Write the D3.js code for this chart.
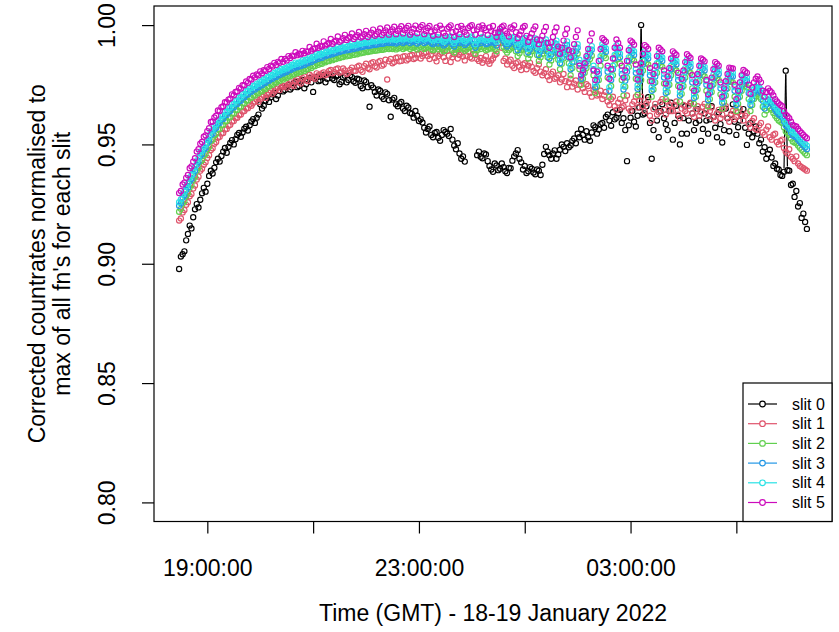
<!DOCTYPE html>
<html>
<head>
<meta charset="utf-8">
<script src="https://cdn.jsdelivr.net/npm/d3@7"></script>
<style>
  body { margin: 0; background: #fff; }
  svg { display: block; font-family: "Liberation Sans", Arial, Helvetica, sans-serif; }
</style>
</head>
<body>
<div id="chart"></div>
<script>
// sampling grid: one reading every 2 minutes from 18:28 GMT
const startTime = new Date(2022, 0, 18, 18, 28);
const stepMinutes = 2;

const slit0 = [
  .8978,.9030,.9040,.9052,.9098,.9125,.9160,.9148,.9195,.9228,.9250,.9236,.9268,.9295,.9318,.9302,.9335,.9368,.9390,.9378,
  .9402,.9425,.9440,.9428,.9452,.9470,.9485,.9465,.9490,.9506,.9518,.9500,.9522,.9540,.9548,.9532,.9550,.9566,.9574,.9558,
  .9580,.9596,.9606,.9590,.9612,.9625,.9668,.9650,.9662,.9684,.9695,.9678,.9698,.9710,.9716,.9690,.9705,.9725,.9738,.9722,
  .9728,.9742,.9750,.9730,.9738,.9756,.9762,.9740,.9745,.9766,.9770,.9735,.9752,.9772,.9778,.9760,.9720,.9776,.9782,.9765,
  .9768,.9784,.9790,.9760,.9775,.9795,.9792,.9776,.9770,.9785,.9790,.9752,.9762,.9780,.9788,.9760,.9770,.9790,.9782,.9765,
  .9758,.9775,.9772,.9745,.9735,.9768,.9762,.9740,.9658,.9748,.9738,.9720,.9705,.9730,.9725,.9700,.9690,.9718,.9712,.9685,
  .9616,.9688,.9695,.9668,.9660,.9672,.9678,.9650,.9640,.9662,.9655,.9632,.9628,.9612,.9640,.9620,.9598,.9605,.9592,.9570,
  .9550,.9565,.9575,.9540,.9530,.9548,.9552,.9528,.9515,.9540,.9560,.9552,.9545,.9535,.9565,.9520,.9495,.9480,.9505,.9462,
  .9440,.9450,.9428,null,null,null,null,null,null,.9455,.9470,.9448,.9442,.9462,.9458,.9430,.9410,.9395,.9385,.9420,
  .9412,.9392,.9398,.9420,.9405,.9388,.9380,.9402,.9400,.9432,.9450,.9462,.9476,.9440,.9425,.9395,.9410,.9380,.9388,.9405,
  .9398,.9382,.9375,.9395,.9390,.9372,.9415,.9460,.9490,.9470,.9455,.9440,.9462,.9475,.9440,.9458,.9478,.9500,.9490,.9472,
  .9505,.9488,.9496,.9515,.9525,.9505,.9545,.9530,.9565,.9540,.9520,.9555,.9530,.9515,.9550,.9580,.9572,.9545,.9562,.9585,
  .9590,.9570,.9615,.9625,.9600,.9578,.9635,.9605,.9612,.9630,.9645,.9590,.9610,.9560,.9430,.9580,.9612,.9640,.9595,.9575,
  .9620,.9655,1.0000,.9625,.9630,.9660,.9698,.9590,.9440,.9560,.9655,.9600,.9530,.9640,.9668,.9610,.9585,.9560,.9640,.9675,
  .9520,.9590,.9662,.9620,.9500,.9545,.9610,.9660,.9545,.9600,.9672,.9630,.9560,.9590,.9648,.9600,.9515,.9565,.9630,.9600,
  .9545,.9605,.9660,.9615,.9570,.9530,.9635,.9585,.9508,.9560,.9650,.9610,.9555,.9625,.9668,.9595,.9540,.9572,.9600,.9625,
  .9648,.9570,.9498,.9545,.9590,.9530,.9555,.9575,.9545,.9505,.9520,.9470,.9488,.9440,.9460,.9478,.9445,.9410,.9420,.9398,
  .9395,.9372,.9368,.9385,.9809,.9392,.9390,.9330,.9335,.9280,.9305,.9240,.9254,.9192,.9210,.9175,.9146
];

const slit1 = [
  .9181,.9190,.9215,.9225,.9247,.9258,.9283,.9292,.9315,.9328,.9353,.9365,.9390,.9398,.9415,.9425,.9443,.9455,.9477,.9484,
  .9503,.9510,.9528,.9532,.9546,.9548,.9563,.9565,.9578,.9582,.9596,.9598,.9610,.9612,.9623,.9625,.9638,.9640,.9650,.9652,
  .9666,.9662,.9672,.9680,.9688,.9678,.9690,.9700,.9706,.9695,.9708,.9716,.9725,.9712,.9722,.9732,.9740,.9728,.9738,.9745,
  .9745,.9738,.9752,.9760,.9750,.9745,.9768,.9775,.9762,.9755,.9778,.9785,.9770,.9765,.9792,.9785,.9780,.9775,.9798,.9790,
  .9790,.9798,.9802,.9790,.9795,.9808,.9812,.9798,.9803,.9815,.9818,.9800,.9805,.9818,.9810,.9795,.9800,.9812,.9822,.9808,
  .9808,.9825,.9830,.9812,.9804,.9828,.9838,.9820,.9815,.9840,.9845,.9828,.9822,.9845,.9850,.9830,.9835,.9855,.9772,.9848,
  .9858,.9840,.9845,.9862,.9865,.9848,.9850,.9868,.9870,.9852,.9858,.9872,.9875,.9858,.9862,.9878,.9880,.9860,.9870,.9882,
  .9885,.9870,.9858,.9875,.9890,.9862,.9848,.9870,.9880,.9885,.9865,.9850,.9892,.9872,.9845,.9865,.9878,.9885,.9860,.9875,
  .9885,.9868,.9852,.9872,.9888,.9865,.9860,.9880,.9875,.9858,.9850,.9862,.9842,.9855,.9870,.9848,.9838,.9852,.9860,.9875,
  .9880,.9925,.9950,.9905,.9850,.9860,.9835,.9848,.9855,.9830,.9820,.9840,.9845,.9825,.9812,.9835,.9840,.9815,.9830,.9842,
  .9825,.9808,.9800,.9820,.9835,.9805,.9790,.9800,.9815,.9785,.9770,.9795,.9805,.9775,.9780,.9790,.9760,.9772,.9795,.9765,
  .9740,.9760,.9775,.9742,.9755,.9768,.9730,.9750,.9765,.9735,.9720,.9752,.9745,.9715,.9700,.9728,.9735,.9705,.9710,.9725,
  .9690,.9705,.9720,.9680,.9665,.9690,.9700,.9660,.9645,.9675,.9690,.9655,.9660,.9685,.9705,.9650,.9640,.9668,.9680,.9700,
  .9655,.9685,.9700,.9660,.9640,.9672,.9685,.9620,.9600,.9648,.9670,.9625,.9635,.9678,.9690,.9645,.9625,.9680,.9665,.9640,
  .9640,.9665,.9680,.9625,.9610,.9650,.9665,.9640,.9630,.9662,.9675,.9630,.9615,.9648,.9660,.9620,.9635,.9658,.9670,.9645,
  .9620,.9640,.9655,.9615,.9600,.9630,.9645,.9610,.9625,.9650,.9660,.9612,.9595,.9628,.9640,.9605,.9615,.9635,.9650,.9620,
  .9600,.9620,.9630,.9585,.9570,.9598,.9610,.9565,.9560,.9580,.9590,.9550,.9540,.9562,.9575,.9530,.9520,.9540,.9545,.9510,
  .9500,.9515,.9520,.9485,.9470,.9462,.9480,.9448,.9440,.9430,.9450,.9420,.9410,.9405,.9400,.9395,.9390
];

const slit2 = [
  .9218,.9230,.9252,.9262,.9284,.9295,.9320,.9330,.9352,.9365,.9390,.9402,.9427,.9434,.9452,.9460,.9480,.9490,.9514,.9520,
  .9537,.9544,.9562,.9565,.9580,.9582,.9597,.9598,.9612,.9615,.9630,.9630,.9644,.9644,.9657,.9658,.9672,.9672,.9684,.9684,
  .9696,.9696,.9706,.9705,.9715,.9714,.9724,.9723,.9733,.9732,.9742,.9742,.9752,.9750,.9760,.9758,.9768,.9766,.9776,.9772,
  .9780,.9778,.9787,.9786,.9794,.9793,.9803,.9798,.9804,.9803,.9813,.9808,.9815,.9815,.9825,.9820,.9828,.9828,.9839,.9834,
  .9840,.9838,.9849,.9844,.9850,.9849,.9859,.9853,.9858,.9858,.9869,.9862,.9866,.9866,.9876,.9869,.9872,.9872,.9882,.9875,
  .9880,.9878,.9889,.9882,.9885,.9885,.9894,.9887,.9890,.9890,.9899,.9892,.9894,.9895,.9903,.9896,.9898,.9900,.9907,.9900,
  .9904,.9900,.9908,.9898,.9902,.9904,.9910,.9900,.9905,.9906,.9912,.9900,.9906,.9905,.9912,.9898,.9905,.9908,.9913,.9900,
  .9905,.9908,.9912,.9900,.9895,.9902,.9910,.9898,.9908,.9900,.9890,.9895,.9906,.9908,.9912,.9895,.9885,.9898,.9908,.9900,
  .9910,.9902,.9892,.9898,.9905,.9908,.9912,.9895,.9880,.9895,.9906,.9900,.9910,.9905,.9895,.9898,.9904,.9902,.9908,.9900,
  .9890,.9940,.9960,.9935,.9908,.9896,.9885,.9895,.9902,.9906,.9910,.9890,.9870,.9882,.9895,.9902,.9906,.9880,.9860,.9875,
  .9890,.9898,.9904,.9875,.9850,.9865,.9880,.9892,.9900,.9865,.9835,.9852,.9870,.9885,.9895,.9855,.9815,.9838,.9860,.9878,
  .9892,.9840,.9790,.9820,.9845,.9865,.9880,.9815,.9750,.9775,.9800,.9820,.9840,.9858,.9872,.9790,.9715,.9742,.9770,.9830,
  .9880,.9872,.9862,.9780,.9700,.9745,.9790,.9835,.9875,.9858,.9840,.9770,.9705,.9742,.9780,.9825,.9865,.9858,.9850,.9775,
  .9708,.9740,.9770,.9810,.9850,.9842,.9835,.9765,.9700,.9730,.9760,.9800,.9840,.9832,.9825,.9755,.9690,.9720,.9750,.9790,
  .9825,.9818,.9810,.9745,.9680,.9712,.9745,.9780,.9815,.9808,.9800,.9735,.9670,.9700,.9730,.9765,.9800,.9792,.9785,.9725,
  .9660,.9690,.9720,.9752,.9785,.9778,.9770,.9710,.9650,.9678,.9705,.9735,.9765,.9762,.9760,.9700,.9640,.9670,.9700,.9725,
  .9750,.9745,.9740,.9690,.9640,.9665,.9690,.9702,.9712,.9700,.9690,.9658,.9625,.9642,.9660,.9652,.9645,.9632,.9620,.9610,
  .9600,.9595,.9590,.9572,.9555,.9548,.9540,.9525,.9512,.9508,.9505,.9495,.9486,.9478,.9470,.9462,.9455
];

const slit3 = [
  .9243,.9255,.9277,.9287,.9309,.9320,.9345,.9355,.9377,.9390,.9415,.9427,.9452,.9459,.9477,.9485,.9505,.9515,.9539,.9545,
  .9562,.9569,.9587,.9590,.9605,.9607,.9622,.9623,.9637,.9640,.9655,.9655,.9669,.9669,.9682,.9683,.9697,.9697,.9709,.9709,
  .9721,.9721,.9731,.9730,.9740,.9739,.9749,.9748,.9758,.9757,.9767,.9767,.9777,.9775,.9785,.9783,.9793,.9791,.9801,.9797,
  .9805,.9803,.9812,.9811,.9819,.9818,.9828,.9823,.9829,.9828,.9838,.9833,.9840,.9840,.9850,.9845,.9853,.9853,.9864,.9859,
  .9865,.9863,.9874,.9869,.9875,.9874,.9884,.9878,.9883,.9883,.9894,.9887,.9891,.9891,.9901,.9894,.9897,.9897,.9907,.9900,
  .9905,.9903,.9914,.9907,.9910,.9910,.9919,.9912,.9915,.9915,.9924,.9917,.9919,.9920,.9928,.9921,.9923,.9925,.9932,.9925,
  .9929,.9925,.9933,.9923,.9927,.9929,.9935,.9925,.9930,.9931,.9937,.9925,.9931,.9930,.9937,.9923,.9930,.9933,.9938,.9925,
  .9930,.9933,.9937,.9925,.9920,.9927,.9935,.9923,.9933,.9925,.9915,.9920,.9931,.9933,.9937,.9920,.9910,.9923,.9933,.9925,
  .9935,.9927,.9917,.9923,.9930,.9933,.9937,.9920,.9905,.9920,.9931,.9925,.9935,.9930,.9920,.9923,.9929,.9927,.9933,.9925,
  .9915,.9950,.9968,.9945,.9933,.9921,.9910,.9920,.9927,.9931,.9935,.9915,.9895,.9907,.9920,.9927,.9931,.9905,.9885,.9900,
  .9915,.9923,.9929,.9900,.9875,.9890,.9905,.9917,.9925,.9890,.9860,.9877,.9895,.9910,.9920,.9880,.9840,.9863,.9885,.9903,
  .9917,.9865,.9815,.9845,.9870,.9890,.9905,.9840,.9775,.9800,.9825,.9845,.9865,.9883,.9897,.9815,.9740,.9767,.9795,.9855,
  .9905,.9897,.9887,.9805,.9725,.9770,.9815,.9860,.9900,.9883,.9865,.9795,.9730,.9767,.9805,.9850,.9890,.9883,.9875,.9800,
  .9733,.9765,.9795,.9835,.9875,.9867,.9860,.9790,.9725,.9755,.9785,.9825,.9865,.9857,.9850,.9780,.9715,.9745,.9775,.9815,
  .9850,.9843,.9835,.9770,.9705,.9737,.9770,.9805,.9840,.9833,.9825,.9760,.9695,.9725,.9755,.9790,.9825,.9817,.9810,.9750,
  .9685,.9715,.9745,.9777,.9810,.9803,.9795,.9735,.9675,.9703,.9730,.9760,.9790,.9787,.9785,.9725,.9665,.9695,.9725,.9750,
  .9775,.9770,.9765,.9715,.9665,.9690,.9715,.9727,.9737,.9725,.9715,.9683,.9650,.9667,.9685,.9677,.9670,.9657,.9645,.9635,
  .9625,.9620,.9615,.9597,.9580,.9573,.9565,.9550,.9537,.9533,.9530,.9520,.9511,.9503,.9495,.9487,.9480
];

const slit4 = [
  .9258,.9270,.9292,.9302,.9324,.9335,.9360,.9370,.9392,.9405,.9430,.9442,.9467,.9474,.9492,.9500,.9520,.9530,.9554,.9560,
  .9577,.9584,.9602,.9605,.9620,.9622,.9637,.9638,.9652,.9655,.9670,.9670,.9684,.9684,.9697,.9698,.9712,.9712,.9724,.9724,
  .9736,.9736,.9746,.9745,.9755,.9754,.9764,.9763,.9773,.9772,.9782,.9782,.9792,.9790,.9800,.9798,.9808,.9806,.9816,.9812,
  .9820,.9818,.9827,.9826,.9834,.9833,.9843,.9838,.9844,.9843,.9853,.9848,.9855,.9855,.9865,.9860,.9868,.9868,.9879,.9874,
  .9880,.9878,.9889,.9884,.9890,.9889,.9899,.9893,.9898,.9898,.9909,.9902,.9906,.9906,.9916,.9909,.9912,.9912,.9922,.9915,
  .9920,.9918,.9929,.9922,.9925,.9925,.9934,.9927,.9930,.9930,.9939,.9932,.9934,.9935,.9943,.9936,.9938,.9940,.9947,.9940,
  .9944,.9940,.9948,.9938,.9942,.9944,.9950,.9940,.9945,.9946,.9952,.9940,.9946,.9945,.9952,.9938,.9945,.9948,.9953,.9940,
  .9945,.9948,.9952,.9940,.9935,.9942,.9950,.9938,.9948,.9940,.9930,.9935,.9946,.9948,.9952,.9935,.9925,.9938,.9948,.9940,
  .9950,.9942,.9932,.9938,.9945,.9948,.9952,.9935,.9920,.9935,.9946,.9940,.9950,.9945,.9935,.9938,.9944,.9942,.9948,.9940,
  .9930,.9962,.9975,.9958,.9948,.9936,.9925,.9935,.9942,.9946,.9950,.9930,.9910,.9922,.9935,.9942,.9946,.9920,.9900,.9915,
  .9930,.9938,.9944,.9915,.9890,.9905,.9920,.9932,.9940,.9905,.9875,.9892,.9910,.9925,.9935,.9895,.9855,.9878,.9900,.9918,
  .9932,.9880,.9830,.9860,.9885,.9905,.9920,.9855,.9790,.9815,.9840,.9860,.9880,.9898,.9912,.9830,.9755,.9782,.9810,.9870,
  .9920,.9912,.9902,.9820,.9740,.9785,.9830,.9875,.9915,.9898,.9880,.9810,.9745,.9782,.9820,.9865,.9905,.9898,.9890,.9815,
  .9748,.9780,.9810,.9850,.9890,.9882,.9875,.9805,.9740,.9770,.9800,.9840,.9880,.9872,.9865,.9795,.9730,.9760,.9790,.9830,
  .9865,.9858,.9850,.9785,.9720,.9752,.9785,.9820,.9855,.9848,.9840,.9775,.9710,.9740,.9770,.9805,.9840,.9832,.9825,.9765,
  .9700,.9730,.9760,.9792,.9825,.9818,.9810,.9750,.9690,.9718,.9745,.9775,.9805,.9802,.9800,.9740,.9680,.9710,.9740,.9765,
  .9790,.9785,.9780,.9730,.9680,.9705,.9730,.9742,.9752,.9740,.9730,.9698,.9665,.9682,.9700,.9692,.9685,.9672,.9660,.9650,
  .9640,.9635,.9630,.9612,.9595,.9588,.9580,.9565,.9552,.9548,.9545,.9535,.9526,.9518,.9510,.9502,.9495
];

const slit5 = [
  .9296,.9305,.9332,.9340,.9360,.9372,.9400,.9408,.9428,.9442,.9470,.9480,.9503,.9510,.9532,.9538,.9556,.9568,.9594,.9596,
  .9613,.9620,.9642,.9640,.9656,.9660,.9677,.9676,.9688,.9692,.9710,.9706,.9720,.9722,.9737,.9734,.9748,.9748,.9764,.9758,
  .9774,.9772,.9788,.9781,.9793,.9790,.9806,.9798,.9811,.9808,.9824,.9816,.9830,.9826,.9842,.9833,.9846,.9842,.9858,.9846,
  .9858,.9852,.9870,.9862,.9872,.9870,.9886,.9874,.9880,.9878,.9892,.9882,.9890,.9888,.9908,.9893,.9900,.9902,.9922,.9905,
  .9912,.9910,.9932,.9915,.9920,.9925,.9942,.9922,.9930,.9935,.9952,.9930,.9935,.9945,.9959,.9938,.9945,.9950,.9965,.9942,
  .9950,.9958,.9971,.9948,.9952,.9962,.9976,.9950,.9960,.9968,.9981,.9955,.9962,.9972,.9986,.9958,.9968,.9978,.9990,.9960,
  .9972,.9982,.9993,.9962,.9975,.9985,.9995,.9965,.9978,.9988,.9997,.9960,.9970,.9985,.9998,.9966,.9982,.9992,1.0000,.9962,
  .9975,.9988,.9996,.9972,.9955,.9978,.9990,.9960,.9998,.9985,.9968,.9955,.9985,.9992,.9999,.9970,.9950,.9975,.9992,.9962,
  .9997,.9985,.9972,.9960,.9988,.9995,1.0000,.9978,.9960,.9982,.9993,.9965,.9999,.9988,.9978,.9958,.9990,.9975,.9996,.9968,
  .9950,.9970,.9985,.9992,.9998,.9975,.9965,.9952,.9990,.9985,.9999,.9970,.9945,.9960,.9975,.9990,.9996,.9955,.9930,.9948,
  .9965,.9982,.9994,.9940,.9920,.9938,.9955,.9975,.9992,.9925,.9905,.9928,.9950,.9972,.9990,.9910,.9880,.9905,.9935,.9962,
  .9985,.9895,.9865,.9890,.9920,.9950,.9978,.9830,.9790,.9812,.9840,.9870,.9900,.9935,.9965,.9810,.9770,.9805,.9850,.9900,
  .9945,.9938,.9930,.9830,.9775,.9815,.9860,.9905,.9940,.9925,.9905,.9830,.9780,.9810,.9850,.9895,.9935,.9928,.9918,.9835,
  .9772,.9805,.9840,.9880,.9916,.9910,.9900,.9820,.9765,.9795,.9830,.9870,.9905,.9898,.9890,.9810,.9755,.9785,.9820,.9860,
  .9890,.9882,.9875,.9800,.9740,.9775,.9810,.9845,.9878,.9870,.9862,.9790,.9725,.9760,.9795,.9830,.9860,.9855,.9848,.9770,
  .9710,.9745,.9780,.9815,.9845,.9838,.9830,.9760,.9700,.9735,.9765,.9795,.9822,.9820,.9818,.9750,.9690,.9725,.9760,.9790,
  .9812,.9806,.9800,.9750,.9712,.9738,.9760,.9775,.9785,.9772,.9760,.9725,.9700,.9720,.9735,.9725,.9718,.9705,.9690,.9680,
  .9672,.9665,.9660,.9640,.9625,.9618,.9610,.9595,.9582,.9578,.9575,.9565,.9556,.9548,.9540,.9532,.9526
];

const seriesNames = ["slit 0", "slit 1", "slit 2", "slit 3", "slit 4", "slit 5"];
const seriesColors = ["#000000", "#DF536B", "#61D04F", "#2297E6", "#28E2E5", "#CD0BBC"];
const seriesValues = [slit0, slit1, slit2, slit3, slit4, slit5];

const yTicks = [0.80, 0.85, 0.90, 0.95, 1.00];
const xTickHours = [19, 21, 23, 25, 27, 29];      // 25 = 01:00 next day
const xLabelHours = [19, 23, 27];                   // R drops the overlapping ones

const width = 839, height = 632;
const plotLeft = 154, plotRight = 832, plotTop = 6, plotBottom = 521.5;

const times = slit0.map((_, i) => new Date(startTime.getTime() + i * stepMinutes * 60000));
const t0 = times[0], t1 = times[times.length - 1];
const pad = (t1 - t0) * 0.04;

const x = d3.scaleTime()
    .domain([new Date(t0.getTime() - pad), new Date(t1.getTime() + pad)])
    .range([plotLeft, plotRight]);

const y = d3.scaleLinear()
    .domain([0.792, 1.008])
    .range([plotBottom, plotTop]);

const svg = d3.select('#chart')
    .append('svg')
    .attr('width', width)
    .attr('height', height);

// points in column order, like matplot
const drawOrder = [0, 1, 2, 3, 4, 5];
const radius = 2.6;
const strokeW = 1.15;
const gap = 3.6;

drawOrder.forEach(k => {
    const vals = seriesValues[k];
    const pts = [];
    vals.forEach((v, i) => {
        if (v !== null) pts.push([x(times[i]), y(v)]);
    });

    // type = "b": connecting segments only show where points are far apart
    const segs = [];
    for (let j = 1; j < pts.length; j++) {
        const dx = pts[j][0] - pts[j - 1][0], dy = pts[j][1] - pts[j - 1][1];
        const d = Math.sqrt(dx * dx + dy * dy);
        if (d > 45) {
            segs.push([
                pts[j - 1][0] + dx * gap / d, pts[j - 1][1] + dy * gap / d,
                pts[j][0] - dx * gap / d, pts[j][1] - dy * gap / d
            ]);
        }
    }

    const g = svg.append('g');
    g.selectAll('line')
        .data(segs)
        .enter().append('line')
        .attr('x1', s => s[0]).attr('y1', s => s[1])
        .attr('x2', s => s[2]).attr('y2', s => s[3])
        .attr('stroke', seriesColors[k])
        .attr('stroke-width', 1.2);

    g.selectAll('circle')
        .data(pts)
        .enter().append('circle')
        .attr('cx', p => p[0])
        .attr('cy', p => p[1])
        .attr('r', radius)
        .attr('fill', 'none')
        .attr('stroke', seriesColors[k])
        .attr('stroke-width', strokeW);
});

// box
svg.append('rect')
    .attr('x', plotLeft).attr('y', plotTop)
    .attr('width', plotRight - plotLeft).attr('height', plotBottom - plotTop)
    .attr('fill', 'none').attr('stroke', '#000').attr('stroke-width', 1.2);

// x axis
const xTickDates = xTickHours.map(h => new Date(2022, 0, 18, h, 0));
const xAxis = d3.axisBottom(x)
    .tickValues(xTickDates)
    .tickSize(12)
    .tickFormat(d => {
        const h = (d - new Date(2022, 0, 18)) / 3600000;
        return xLabelHours.includes(h) ? d3.timeFormat('%H:%M:%S')(d) : '';
    });

const gx = svg.append('g')
    .attr('transform', `translate(0,${plotBottom})`)
    .call(xAxis);
gx.select('.domain').remove();
gx.selectAll('.tick line').attr('stroke', '#000').attr('stroke-width', 1.2);
gx.selectAll('.tick text')
    .attr('y', 0).attr('dy', 0)
    .attr('transform', 'translate(0,54)')
    .attr('font-size', 23)
    .attr('font-family', '"Liberation Sans", Arial, sans-serif')
    .attr('fill', '#000');

// y axis
const yAxis = d3.axisLeft(y)
    .tickValues(yTicks)
    .tickSize(12)
    .tickFormat(d3.format('.2f'));

const gy = svg.append('g')
    .attr('transform', `translate(${plotLeft},0)`)
    .call(yAxis);
gy.select('.domain').remove();
gy.selectAll('.tick line').attr('stroke', '#000').attr('stroke-width', 1.2);
gy.selectAll('.tick text')
    .attr('x', 0).attr('dy', 0)
    .attr('text-anchor', 'middle')
    .attr('transform', 'translate(-39,0) rotate(-90)')
    .attr('font-size', 23)
    .attr('font-family', '"Liberation Sans", Arial, sans-serif')
    .attr('fill', '#000');

// axis titles
svg.append('text')
    .attr('x', (plotLeft + plotRight) / 2)
    .attr('y', 621)
    .attr('text-anchor', 'middle')
    .attr('font-size', 23)
    .text('Time (GMT) - 18-19 January 2022');

const yTitle = ["Corrected countrates normalised to", "max of all fn's for each slit"];
yTitle.forEach((line, k) => {
    svg.append('text')
        .attr('transform', `translate(${45 + k * 25},${(plotTop + plotBottom) / 2}) rotate(-90)`)
        .attr('text-anchor', 'middle')
        .attr('font-size', 23)
        .text(line);
});

// legend
const legend = svg.append('g');
legend.append('rect')
    .attr('x', 743).attr('y', 383)
    .attr('width', plotRight - 743).attr('height', plotBottom - 383)
    .attr('fill', '#fff').attr('stroke', '#000').attr('stroke-width', 1.2);

seriesNames.forEach((name, k) => {
    const ry = 404 + k * 19.7;
    legend.append('line')
        .attr('x1', 748).attr('x2', 777)
        .attr('y1', ry).attr('y2', ry)
        .attr('stroke', seriesColors[k]).attr('stroke-width', 1.2);
    legend.append('circle')
        .attr('cx', 762.5).attr('cy', ry).attr('r', 2.8)
        .attr('fill', '#fff')
        .attr('stroke', seriesColors[k]).attr('stroke-width', 1.2);
    legend.append('text')
        .attr('x', 792).attr('y', ry + 5.5)
        .attr('font-size', 16)
        .text(name);
});
</script>
</body>
</html>
